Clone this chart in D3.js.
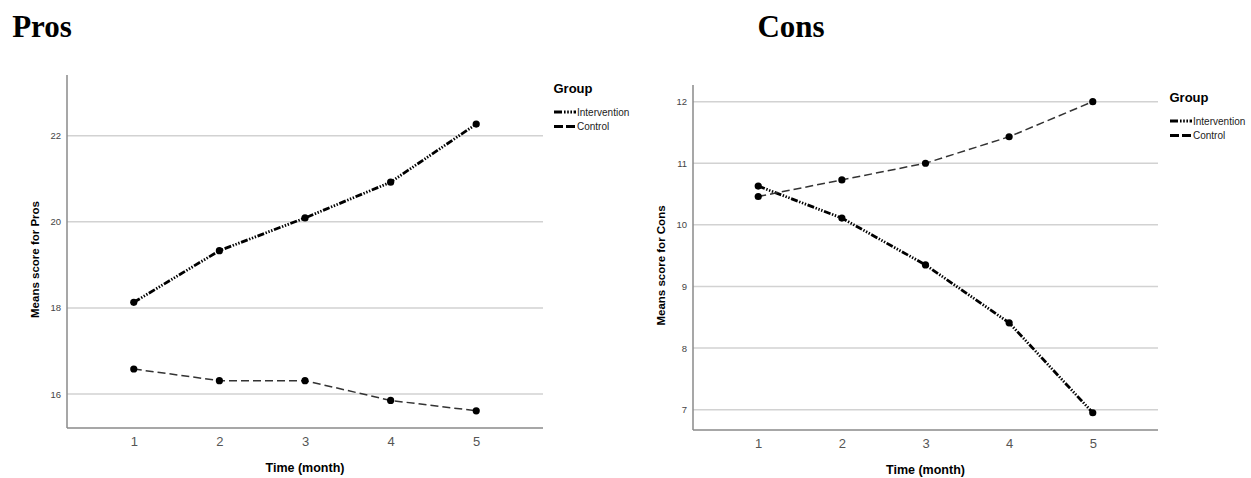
<!DOCTYPE html>
<html>
<head>
<meta charset="utf-8">
<script src="https://cdn.jsdelivr.net/npm/d3@7"></script>
<style>
  body { margin: 0; background: #fff; }
  text { font-family: "Liberation Sans", Arial, sans-serif; }
</style>
</head>
<body>
<div id="chart"></div>
<script>
// data
const months = [1, 2, 3, 4, 5];
const groups = ["Intervention", "Control"];
const prosIntervention = [18.13, 19.33, 20.09, 20.92, 22.27];
const prosControl = [16.58, 16.31, 16.31, 15.85, 15.61];
const consIntervention = [10.63, 10.11, 9.35, 8.41, 6.95];
const consControl = [10.46, 10.73, 11.0, 11.43, 12.0];
const prosTicks = [16, 18, 20, 22];
const consTicks = [7, 8, 9, 10, 11, 12];

const W = 1251, H = 478;
const svg = d3.select("#chart").append("svg")
  .attr("width", W).attr("height", H);

const STYLE = {
  Intervention: {dash: "7,1.6,1.4,1.6,1.4,1.6,1.4,1.6", width: 2.8, color: "#000"},
  Control: {dash: "8,4", width: 1.5, color: "#333"}
};

function panel(cfg) {
  const x = d3.scaleLinear().domain([0.22, 5.78]).range([cfg.left, cfg.right]);
  const y = d3.scaleLinear().domain(cfg.yDomain).range([cfg.bottom, cfg.top]);
  const g = svg.append("g");

  // title
  svg.append("text")
    .attr("x", cfg.titleX).attr("y", 37)
    .attr("text-anchor", "middle")
    .style("font-family", "'Liberation Serif', 'Times New Roman', serif")
    .style("font-weight", "bold").style("font-size", "31px")
    .text(cfg.title);

  // gridlines
  g.selectAll(".grid").data(cfg.ticks).enter().append("line")
    .attr("x1", cfg.left).attr("x2", cfg.right)
    .attr("y1", d => y(d)).attr("y2", d => y(d))
    .attr("stroke", "#d2d2d2").attr("stroke-width", 1.5);

  // axes
  const yAxis = g.append("g").attr("transform", `translate(${cfg.left},0)`)
    .call(d3.axisLeft(y).tickValues(cfg.ticks).tickFormat(d3.format("d")).tickSize(0).tickPadding(6));
  yAxis.select(".domain").remove();
  yAxis.selectAll("text").style("font-size", "9.5px").attr("fill", "#444");

  const xAxis = g.append("g").attr("transform", `translate(0,${cfg.bottom})`)
    .call(d3.axisBottom(x).tickValues(months).tickFormat(d3.format("d")).tickSize(0).tickPadding(9));
  xAxis.select(".domain").remove();
  xAxis.selectAll("text").style("font-size", "13px").attr("fill", "#555");

  g.append("line").attr("x1", cfg.left).attr("x2", cfg.left)
    .attr("y1", cfg.top).attr("y2", cfg.bottom)
    .attr("stroke", "#8a8a8a").attr("stroke-width", 1.5);
  g.append("line").attr("x1", cfg.left).attr("x2", cfg.right)
    .attr("y1", cfg.bottom).attr("y2", cfg.bottom)
    .attr("stroke", "#8a8a8a").attr("stroke-width", 1.5);

  // axis labels
  g.append("text")
    .attr("x", (cfg.left + cfg.right) / 2).attr("y", cfg.bottom + 44)
    .attr("text-anchor", "middle")
    .style("font-weight", "bold").style("font-size", "12.5px")
    .text("Time (month)");
  g.append("text")
    .attr("transform", `translate(${cfg.yLabelX},${(cfg.top + cfg.bottom) / 2 + 8}) rotate(-90)`)
    .attr("text-anchor", "middle")
    .style("font-weight", "bold").style("font-size", "11.5px")
    .text(cfg.yLabel);

  // lines
  const line = d3.line().x((d, i) => x(months[i])).y(d => y(d));
  cfg.series.forEach((vals, k) => {
    const s = STYLE[groups[k]];
    g.append("path").datum(vals)
      .attr("d", line).attr("fill", "none")
      .attr("stroke", s.color).attr("stroke-width", s.width)
      .attr("stroke-dasharray", s.dash);
    g.selectAll(null).data(vals).enter().append("circle")
      .attr("cx", (d, i) => x(months[i])).attr("cy", d => y(d))
      .attr("r", 3.6).attr("fill", "#000");
  });

  // legend
  const lg = svg.append("g").attr("transform", `translate(${cfg.legendX},${cfg.legendY})`);
  lg.append("text").attr("x", 19).attr("y", 0)
    .attr("text-anchor", "middle")
    .style("font-weight", "bold").style("font-size", "13px")
    .text("Group");
  groups.forEach((name, k) => {
    const s = STYLE[name];
    const yy = 19 + k * 14.4;
    lg.append("line").attr("x1", 0).attr("x2", 22)
      .attr("y1", yy).attr("y2", yy)
      .attr("stroke", "#000").attr("stroke-width", 3)
      .attr("stroke-dasharray", k === 0 ? "8,2,1.6,1.6,1.6,1.6,1.6,1.6" : "9,3");
    lg.append("text").attr("x", 23).attr("y", yy + 3.5)
      .style("font-size", "10px").attr("fill", "#222")
      .text(name);
  });
}

panel({
  title: "Pros", titleX: 42,
  left: 67, right: 543, top: 75, bottom: 428,
  yDomain: [15.21, 23.41], ticks: prosTicks,
  yLabel: "Means score for Pros", yLabelX: 39,
  series: [prosIntervention, prosControl],
  legendX: 554, legendY: 93
});

panel({
  title: "Cons", titleX: 791,
  left: 693, right: 1158, top: 85, bottom: 430,
  yDomain: [6.67, 12.27], ticks: consTicks,
  yLabel: "Means score for Cons", yLabelX: 665,
  series: [consIntervention, consControl],
  legendX: 1170, legendY: 102
});
</script>
</body>
</html>
